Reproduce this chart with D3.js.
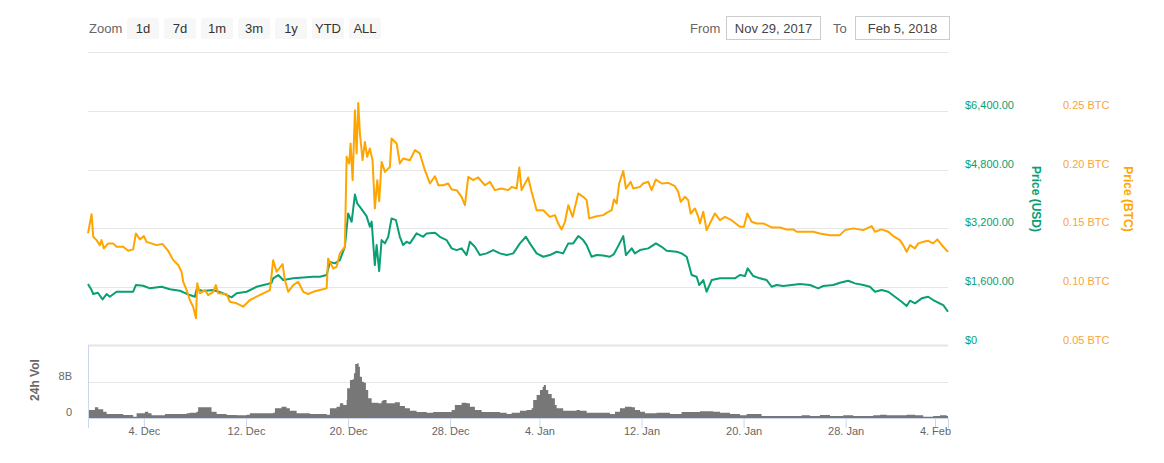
<!DOCTYPE html>
<html>
<head>
<meta charset="utf-8">
<script src="https://cdn.jsdelivr.net/npm/d3@7"></script>
<style>
  html, body { margin: 0; padding: 0; background: #fff; }
  svg { display: block; font-family: "Liberation Sans", Arial, sans-serif; }
</style>
</head>
<body>
<svg id="chart" width="1164" height="463"></svg>
<script>
// ---------------- DATA (days since 2017-11-29 00:00 UTC) ----------------
const zoomButtons = ["1d", "7d", "1m", "3m", "1y", "YTD", "ALL"];
const fromLabel = "Nov 29, 2017";
const toLabel = "Feb 5, 2018";

const usdDays = [0.62,0.90,1.03,1.39,1.76,2.08,2.33,2.86,4.16,4.37,
  4.94,5.47,6.39,7.04,7.82,8.60,9.00,9.13,9.65,10.43,
  11.21,11.87,12.27,13.05,13.83,14.62,15.01,15.13,15.53,15.92,
  16.70,18.27,18.79,19.32,19.58,19.97,20.36,20.75,21.01,21.28,
  21.54,21.72,22.06,22.45,22.71,22.85,23.10,23.24,23.44,23.63,
  23.89,24.15,24.41,24.75,25.06,25.32,25.59,25.85,26.37,26.89,
  27.16,27.81,28.20,28.72,29.12,29.51,29.90,30.29,30.55,30.94,
  31.33,31.86,32.38,32.90,33.43,33.95,34.47,34.94,35.25,35.78,
  36.30,36.82,37.35,37.86,38.26,38.65,39.04,39.43,39.70,40.09,
  40.48,41.00,41.52,41.84,42.17,42.57,42.78,43.23,43.48,43.88,
  44.53,45.13,45.58,45.97,46.75,47.14,47.54,47.93,48.32,48.52,
  48.84,49.10,49.50,50.15,50.80,51.32,51.71,52.11,52.32,52.76,
  53.28,53.81,54.20,54.59,55.11,55.77,56.42,57.20,57.85,58.24,
  59.03,59.55,60.20,60.73,61.38,61.90,62.30,62.82,63.34,63.86,
  64.39,64.78,65.04,65.43,65.96,66.47,66.86,67.26,67.65,68.02];
const usdPrice = [1677,1513,1404,1440,1260,1404,1331,1467,1467,1650,
  1631,1560,1603,1533,1494,1377,1331,1533,1486,1513,
  1424,1314,1424,1467,1603,1669,1713,1833,1923,1786,
  1833,1876,1876,1923,2277,2242,2332,2694,3605,3376,
  4118,3878,3722,3532,3240,3381,2195,2741,2032,2877,
  2787,2967,3469,3422,2967,2741,2831,2787,3060,2967,
  3060,3076,2967,2877,2651,2604,2651,2468,2831,2694,
  2468,2514,2604,2514,2468,2514,2787,2967,2787,2514,
  2422,2468,2558,2514,2787,2787,2986,2877,2741,2422,
  2468,2454,2422,2495,2713,2986,2468,2651,2514,2604,
  2651,2787,2694,2585,2558,2514,2422,1923,1876,1650,
  1786,1467,1786,1833,1833,1833,1923,1895,2105,1895,
  1833,1786,1603,1650,1623,1650,1677,1650,1560,1623,
  1650,1713,1767,1696,1650,1603,1467,1513,1467,1331,
  1194,1077,1222,1151,1287,1331,1241,1167,1104,922];

const btcDays = [0.62,0.90,1.03,1.29,1.55,1.68,1.86,2.20,2.59,2.86,
  3.38,3.77,4.16,4.37,4.69,5.00,5.21,5.99,6.46,6.90,
  7.30,7.69,7.95,8.08,8.35,8.60,8.86,9.08,9.18,9.39,
  9.78,10.04,10.43,10.64,10.82,11.48,11.74,12.27,12.78,13.31,
  13.83,14.35,14.88,15.13,15.40,15.87,16.05,16.31,16.70,17.09,
  17.49,17.88,18.27,18.79,19.32,19.44,19.84,20.10,20.36,20.75,
  20.89,21.09,21.20,21.36,21.54,21.67,21.80,21.93,22.14,22.32,
  22.50,22.71,22.92,23.10,23.29,23.44,23.63,23.89,24.28,24.41,
  24.81,25.06,25.32,25.85,26.24,26.63,27.02,27.42,27.81,28.07,
  28.46,28.85,29.12,29.51,29.90,30.16,30.42,30.81,31.20,31.73,
  32.12,32.51,33.04,33.55,33.82,34.21,34.42,34.60,35.12,35.39,
  35.78,36.30,36.82,37.21,37.47,37.74,38.00,38.26,38.60,39.04,
  39.43,39.70,39.90,40.48,41.00,41.27,41.66,41.84,42.05,42.25,
  42.57,42.78,43.15,43.35,43.88,44.13,44.53,44.79,45.13,45.58,
  46.09,46.62,46.88,47.07,47.40,47.66,47.85,48.19,48.45,48.58,
  48.84,49.10,49.36,49.75,50.15,50.54,51.06,51.71,52.03,52.29,
  52.63,53.02,53.54,54.20,54.85,55.37,55.89,56.16,56.94,57.46,
  57.98,58.77,59.55,59.94,60.59,61.38,62.04,62.30,62.82,63.34,
  63.73,64.25,64.51,64.78,65.04,65.43,65.69,66.08,66.47,66.86,
  67.18,67.65,68.02];
const btcPrice = [.1456,.1620,.1427,.1399,.1356,.1399,.1328,.1371,.1371,.1342,
  .1342,.1308,.1320,.1456,.1405,.1433,.1384,.1356,.1365,.1308,
  .1228,.1186,.1129,.1044,.0973,.0888,.0831,.0732,.1030,.0945,
  .0973,.0930,.0958,.1015,.0945,.0939,.0873,.0860,.0831,.0888,
  .0916,.0945,.0973,.1228,.1129,.1194,.1058,.0958,.1015,.1044,
  .0958,.0939,.0958,.0973,.0987,.1243,.1158,.1171,.1286,.1342,
  .2109,.2052,.2223,.1910,.2506,.2138,.2569,.2308,.2080,.2236,
  .2109,.2180,.2080,.1669,.1910,.1731,.2066,.1981,.2023,.2265,
  .2223,.2052,.2095,.2080,.2166,.2138,.1995,.1882,.1944,.1867,
  .1867,.1882,.1831,.1825,.1768,.1697,.1938,.1910,.1933,.1867,
  .1896,.1825,.1839,.1825,.1853,.1839,.2018,.1825,.1933,.1810,
  .1654,.1654,.1597,.1612,.1541,.1490,.1555,.1697,.1597,.1797,
  .1768,.1740,.1584,.1603,.1612,.1631,.1654,.1746,.1712,.1882,
  .1989,.1839,.1896,.1839,.1853,.1882,.1896,.1825,.1916,.1882,
  .1887,.1859,.1810,.1725,.1768,.1740,.1626,.1669,.1597,.1541,
  .1640,.1484,.1541,.1626,.1569,.1597,.1569,.1512,.1512,.1626,
  .1555,.1541,.1541,.1507,.1507,.1490,.1490,.1470,.1470,.1470,
  .1456,.1441,.1441,.1484,.1499,.1484,.1518,.1470,.1490,.1470,
  .1433,.1399,.1356,.1299,.1356,.1328,.1371,.1384,.1393,.1371,
  .1405,.1342,.1299];

const volDays = [0.62,1.16,1.42,1.81,2.08,3.12,3.38,4.16,4.43,5.08,
  5.34,5.60,6.51,6.65,8.35,8.60,9.13,9.25,10.04,10.30,
  10.70,11.48,12.27,13.05,13.31,14.09,15.13,15.27,15.79,16.18,
  16.44,16.97,18.01,19.32,19.58,20.10,20.36,20.62,20.89,20.93,
  21.15,21.36,21.46,21.56,21.72,21.83,21.93,22.09,22.24,22.40,
  22.58,22.85,23.36,23.63,23.76,24.02,24.41,24.67,25.06,25.46,
  25.85,26.37,27.16,27.67,28.72,29.12,29.37,29.90,30.29,30.55,
  30.94,31.47,32.90,33.43,33.82,34.47,34.99,35.39,35.51,35.78,
  36.04,36.25,36.35,36.51,36.69,36.96,37.21,37.35,37.86,38.91,
  39.17,39.70,41.00,41.52,41.92,42.31,42.70,43.22,43.48,43.88,
  44.27,45.18,45.97,46.23,46.88,47.14,48.58,49.62,50.15,50.93,
  51.71,52.24,53.02,53.41,55.63,56.55,57.20,57.98,58.77,59.81,
  60.59,62.16,62.69,63.21,64.78,65.43,66.08,66.86,67.39,67.91,68.02];
const volBillions = [1.78,2.37,1.93,1.41,0.89,0.89,0.67,0.30,1.04,1.41,
  1.04,0.59,0.59,0.89,1.04,1.18,1.41,2.37,2.37,1.41,
  0.89,0.67,0.59,0.74,1.04,1.04,1.18,2.15,2.50,2.15,
  1.63,1.04,0.89,0.74,2.15,2.50,3.26,2.89,4.00,6.60,
  8.44,8.59,9.92,12.00,12.14,11.40,9.17,8.06,7.84,6.20,
  4.37,3.40,3.26,3.84,4.00,3.26,3.26,3.48,2.66,2.15,
  1.63,1.33,1.18,1.33,1.33,1.78,2.89,3.40,3.26,2.50,
  1.78,1.33,1.18,0.89,1.18,1.63,1.78,2.15,4.00,5.10,
  6.20,6.95,7.33,6.20,5.33,4.37,2.89,2.15,1.63,1.78,
  1.63,1.18,1.18,0.89,1.41,2.15,2.50,2.37,1.78,1.41,
  1.04,1.18,1.18,0.89,0.89,1.33,1.48,1.41,1.18,0.89,
  0.59,0.89,0.89,0.44,0.44,0.59,0.44,0.67,0.44,0.59,
  0.44,0.59,0.74,0.59,0.74,0.59,0.30,0.44,0.59,0.44,0.44];

const usdTicks = [0, 1600, 3200, 4800, 6400];
const btcTicks = [0.05, 0.10, 0.15, 0.20, 0.25];
const volTicks = [0, 8];
const xTickDates = ["2017-12-04","2017-12-12","2017-12-20","2017-12-28",
  "2018-01-04","2018-01-12","2018-01-20","2018-01-28","2018-02-04"];

// ---------------- CHART ----------------
const GREEN = "#0a9e75", ORANGE = "#ffa500", ORANGE_TXT = "#f7a53c";
const base = Date.UTC(2017, 10, 29);
const toDate = d => new Date(base + d * 864e5);

const svg = d3.select("#chart");
svg.append("rect").attr("width", 1164).attr("height", 463).attr("fill", "#fff");

const x = d3.scaleUtc().domain([toDate(0.62), toDate(68.02)]).range([88, 948]);
const yUsd = d3.scaleLinear().domain([0, 6400]).range([345.5, 111]);
const yBtc = d3.scaleLinear().domain([0.05, 0.25]).range([345.5, 111]);
const yVol = d3.scaleLinear().domain([0, 16]).range([418, 346]);

// Range selector
svg.append("text").attr("x", 89).attr("y", 33).attr("font-size", 13)
  .attr("fill", "#666").text("Zoom");
const btn = svg.append("g").selectAll("g").data(zoomButtons).join("g")
  .attr("transform", (d, i) => `translate(${127 + i * 37},18)`);
btn.append("rect").attr("width", 32).attr("height", 21).attr("rx", 2).attr("fill", "#f7f7f7");
btn.append("text").attr("x", 16).attr("y", 15).attr("text-anchor", "middle")
  .attr("font-size", 13).attr("fill", "#333").text(d => d);

svg.append("text").attr("x", 690).attr("y", 33).attr("font-size", 13).attr("fill", "#666").text("From");
svg.append("rect").attr("x", 726.5).attr("y", 16.5).attr("width", 94).attr("height", 23)
  .attr("fill", "#fff").attr("stroke", "#ccc");
svg.append("text").attr("x", 773.5).attr("y", 33).attr("text-anchor", "middle")
  .attr("font-size", 13).attr("fill", "#444").text(fromLabel);
svg.append("text").attr("x", 833).attr("y", 33).attr("font-size", 13).attr("fill", "#666").text("To");
svg.append("rect").attr("x", 855.5).attr("y", 16.5).attr("width", 94).attr("height", 23)
  .attr("fill", "#fff").attr("stroke", "#ccc");
svg.append("text").attr("x", 902.5).attr("y", 33).attr("text-anchor", "middle")
  .attr("font-size", 13).attr("fill", "#444").text(toLabel);

svg.append("line").attr("x1", 88).attr("x2", 948).attr("y1", 52.5).attr("y2", 52.5)
  .attr("stroke", "#e6e6e6");

// Price gridlines
svg.append("g").selectAll("line").data(usdTicks.filter(d => d > 0)).join("line")
  .attr("x1", 88).attr("x2", 948)
  .attr("y1", d => Math.round(yUsd(d)) + 0.5).attr("y2", d => Math.round(yUsd(d)) + 0.5)
  .attr("stroke", "#e6e6e6");

// Price labels
svg.append("g").selectAll("text").data(usdTicks).join("text")
  .attr("x", 965).attr("y", d => yUsd(d) - 2).attr("font-size", 11).attr("fill", GREEN)
  .text(d => d === 0 ? "$0" : "$" + d3.format(",.2f")(d));
svg.append("g").selectAll("text").data(btcTicks).join("text")
  .attr("x", 1063).attr("y", d => yBtc(d) - 2).attr("font-size", 11).attr("fill", ORANGE_TXT)
  .text(d => d3.format(".2f")(d) + " BTC");

svg.append("text").attr("transform", "translate(1036,199) rotate(90)")
  .attr("text-anchor", "middle").attr("dominant-baseline", "central")
  .attr("font-size", 12).attr("font-weight", "bold").attr("fill", GREEN).text("Price (USD)");
svg.append("text").attr("transform", "translate(1128,199) rotate(90)")
  .attr("text-anchor", "middle").attr("dominant-baseline", "central")
  .attr("font-size", 12).attr("font-weight", "bold").attr("fill", ORANGE).text("Price (BTC)");

// Volume panel
svg.append("line").attr("x1", 88).attr("x2", 948).attr("y1", 345.5).attr("y2", 345.5)
  .attr("stroke", "#e6e6e6").attr("stroke-width", 2);
svg.append("g").selectAll("line").data(volTicks.filter(d => d > 0)).join("line")
  .attr("x1", 88).attr("x2", 948)
  .attr("y1", d => Math.round(yVol(d)) + 0.5).attr("y2", d => Math.round(yVol(d)) + 0.5)
  .attr("stroke", "#e6e6e6");
svg.append("g").selectAll("text").data(volTicks).join("text")
  .attr("x", 72).attr("y", d => yVol(d) - 2).attr("text-anchor", "end")
  .attr("font-size", 11).attr("fill", "#666").text(d => d === 0 ? "0" : d + "B");
svg.append("text").attr("transform", "translate(35,380) rotate(-90)")
  .attr("text-anchor", "middle").attr("dominant-baseline", "central")
  .attr("font-size", 12).attr("font-weight", "bold").attr("fill", "#666").text("24h Vol");

const volData = d3.zip(volDays, volBillions);
svg.append("path").datum(volData)
  .attr("fill", "#777")
  .attr("d", d3.area().curve(d3.curveStepAfter)
    .x(d => x(toDate(d[0]))).y0(yVol(0)).y1(d => yVol(d[1])));

svg.append("line").attr("x1", 88.5).attr("x2", 88.5).attr("y1", 345).attr("y2", 418)
  .attr("stroke", "#ccd6eb");

// X axis
const xAxis = d3.axisBottom(x)
  .tickValues(xTickDates.map(s => new Date(s + "T00:00:00Z")))
  .tickFormat(d3.utcFormat("%-d. %b")).tickSizeOuter(0).tickSize(10);
const gx = svg.append("g").attr("transform", "translate(0,418)").call(xAxis);
gx.select(".domain").attr("stroke", "#ccd6eb");
gx.selectAll(".tick line").attr("stroke", "#ccd6eb");
gx.selectAll(".tick text").attr("fill", "#666").attr("font-size", 11)
  .attr("font-family", "Liberation Sans, Arial, sans-serif").attr("dy", "1.2em").attr("y", 4);

// Lines
const usdData = d3.zip(usdDays, usdPrice);
const btcData = d3.zip(btcDays, btcPrice);
svg.append("path").datum(usdData).attr("fill", "none").attr("stroke", GREEN)
  .attr("stroke-width", 2).attr("stroke-linejoin", "round")
  .attr("d", d3.line().x(d => x(toDate(d[0]))).y(d => yUsd(d[1])));
svg.append("path").datum(btcData).attr("fill", "none").attr("stroke", ORANGE)
  .attr("stroke-width", 2).attr("stroke-linejoin", "round")
  .attr("d", d3.line().x(d => x(toDate(d[0]))).y(d => yBtc(d[1])));
</script>
</body>
</html>
